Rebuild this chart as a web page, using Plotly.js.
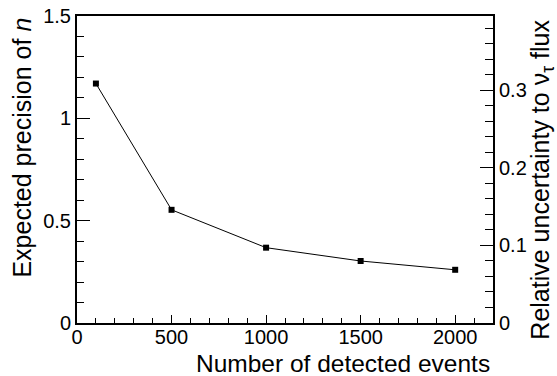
<!DOCTYPE html>
<html>
<head>
<meta charset="utf-8">
<script src="https://cdn.plot.ly/plotly-3.0.1.min.js"></script>
<style>html,body{margin:0;padding:0;background:#fff}#chart{width:557px;height:376px}</style>
</head>
<body>
<div id="chart"></div>
<script>
// Data
const events = [100, 500, 1000, 1500, 2000];
const precisionN = [1.17, 0.553, 0.368, 0.303, 0.26];
const xTickVals = [0, 500, 1000, 1500, 2000];
const leftTickVals = [0, 0.5, 1, 1.5];
const rightTickVals = [0, 0.1, 0.2, 0.3];

const FONT = '"Liberation Sans", Arial, Helvetica, sans-serif';

const traces = [
  {
    x: events, y: precisionN, type: 'scatter', mode: 'lines+markers',
    line: {color: '#000', width: 1},
    marker: {symbol: 'square', size: 6, color: '#000'},
    hoverinfo: 'skip', showlegend: false
  },
  {
    x: [], y: [], type: 'scatter', mode: 'markers', yaxis: 'y2',
    hoverinfo: 'skip', showlegend: false
  }
];

const layout = {
  width: 557, height: 376,
  margin: {l: 77, r: 64, t: 16, b: 53, pad: 0},
  paper_bgcolor: '#fff', plot_bgcolor: '#fff',
  font: {family: FONT, color: '#000', size: 20},
  showlegend: false,
  xaxis: {
    range: [0, 2200], tickvals: xTickVals, ticktext: xTickVals.map(String),
    ticks: 'inside', ticklen: 8, tickwidth: 1, tickcolor: '#000',
    ticklabelstandoff: -5,
    minor: {dtick: 100, tick0: 0, ticks: 'inside', ticklen: 5, tickwidth: 1, tickcolor: '#000', showgrid: false},
    showline: true, linecolor: '#000', linewidth: 2, mirror: true,
    showgrid: false, zeroline: false,
    tickfont: {size: 20, family: FONT, color: '#000'}
  },
  yaxis: {
    range: [0, 1.5], tickvals: leftTickVals, ticktext: leftTickVals.map(String),
    ticks: 'inside', ticklen: 13, tickwidth: 1, tickcolor: '#000',
    minor: {dtick: 0.1, tick0: 0, ticks: 'inside', ticklen: 7, tickwidth: 1, tickcolor: '#000', showgrid: false},
    showline: true, linecolor: '#000', linewidth: 2,
    showgrid: false, zeroline: false,
    tickfont: {size: 20, family: FONT, color: '#000'}
  },
  yaxis2: {
    overlaying: 'y', side: 'right', anchor: 'x',
    range: [0, 0.3956], tickvals: rightTickVals, ticktext: rightTickVals.map(String),
    ticks: 'inside', ticklen: 13, tickwidth: 1, tickcolor: '#000',
    minor: {dtick: 0.02, tick0: 0, ticks: 'inside', ticklen: 8, tickwidth: 1, tickcolor: '#000', showgrid: false},
    showline: true, linecolor: '#000', linewidth: 2,
    showgrid: false, zeroline: false,
    tickfont: {size: 20, family: FONT, color: '#000'}
  },
  annotations: [
    {
      text: 'Number of detected events', xref: 'paper', yref: 'paper',
      x: 0.9976, y: -0.08, xanchor: 'right', yanchor: 'top', showarrow: false,
      font: {size: 24.5, family: FONT, color: '#000'}
    },
    {
      text: 'Expected precision of <i>n</i>', xref: 'paper', yref: 'paper',
      x: -0.132, y: 0.5717, xanchor: 'center', yanchor: 'middle', textangle: -90, showarrow: false,
      font: {size: 25, family: FONT, color: '#000'}
    },
    {
      text: 'Relative uncertainty to ν<sub>τ</sub> flux', xref: 'paper', yref: 'paper',
      x: 1.117, y: 0.4658, xanchor: 'center', yanchor: 'middle', textangle: -90, showarrow: false,
      font: {size: 25, family: FONT, color: '#000'}
    }
  ]
};

Plotly.newPlot('chart', traces, layout, {displayModeBar: false, staticPlot: true});
</script>
</body>
</html>
